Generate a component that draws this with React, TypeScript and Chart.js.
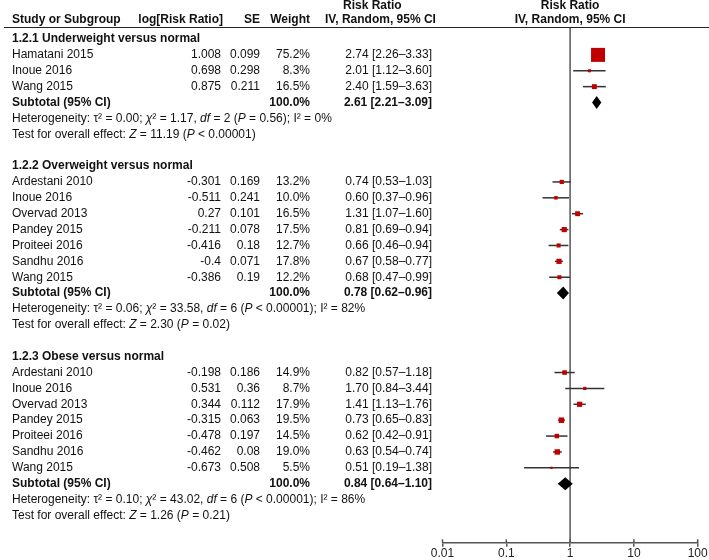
import React, { useEffect, useRef } from "react";
import { Chart, registerables } from "chart.js";

Chart.register(...registerables);

const FONT = "'Liberation Sans', Arial, Helvetica, sans-serif";

// ---------- data ----------
const groupTitles = [
  "1.2.1 Underweight versus normal",
  "1.2.2 Overweight versus normal",
  "1.2.3 Obese versus normal",
];

const studies1 = ["Hamatani 2015", "Inoue 2016", "Wang 2015"];
const logRR1 = [1.008, 0.698, 0.875];
const se1 = [0.099, 0.298, 0.211];
const weight1 = [75.2, 8.3, 16.5];
const rr1 = [2.74, 2.01, 2.4];
const lo1 = [2.26, 1.12, 1.59];
const hi1 = [3.33, 3.6, 3.63];

const studies2 = ["Ardestani 2010", "Inoue 2016", "Overvad 2013", "Pandey 2015", "Proiteei 2016", "Sandhu 2016", "Wang 2015"];
const logRR2 = [-0.301, -0.511, 0.27, -0.211, -0.416, -0.4, -0.386];
const se2 = [0.169, 0.241, 0.101, 0.078, 0.18, 0.071, 0.19];
const weight2 = [13.2, 10.0, 16.5, 17.5, 12.7, 17.8, 12.2];
const rr2 = [0.74, 0.6, 1.31, 0.81, 0.66, 0.67, 0.68];
const lo2 = [0.53, 0.37, 1.07, 0.69, 0.46, 0.58, 0.47];
const hi2 = [1.03, 0.96, 1.6, 0.94, 0.94, 0.77, 0.99];

const studies3 = ["Ardestani 2010", "Inoue 2016", "Overvad 2013", "Pandey 2015", "Proiteei 2016", "Sandhu 2016", "Wang 2015"];
const logRR3 = [-0.198, 0.531, 0.344, -0.315, -0.478, -0.462, -0.673];
const se3 = [0.186, 0.36, 0.112, 0.063, 0.197, 0.08, 0.508];
const weight3 = [14.9, 8.7, 17.9, 19.5, 14.5, 19.0, 5.5];
const rr3 = [0.82, 1.7, 1.41, 0.73, 0.62, 0.63, 0.51];
const lo3 = [0.57, 0.84, 1.13, 0.65, 0.42, 0.54, 0.19];
const hi3 = [1.18, 3.44, 1.76, 0.83, 0.91, 0.74, 1.38];

const subtotalRR = [2.61, 0.78, 0.84];
const subtotalLo = [2.21, 0.62, 0.64];
const subtotalHi = [3.09, 0.96, 1.1];

const tau2 = ["0.00", "0.06", "0.10"];
const chi2 = ["1.17", "33.58", "43.02"];
const dfs = [2, 6, 6];
const hetP = ["= 0.56", "< 0.00001", "< 0.00001"];
const i2 = [0, 82, 86];
const zStat = ["11.19", "2.30", "1.26"];
const zP = ["< 0.00001", "= 0.02", "= 0.21"];

const xTicks = [0.01, 0.1, 1, 10, 100];

// ---------- structure ----------
const rawGroups = [
  { names: studies1, logrr: logRR1, se: se1, w: weight1, rr: rr1, lo: lo1, hi: hi1 },
  { names: studies2, logrr: logRR2, se: se2, w: weight2, rr: rr2, lo: lo2, hi: hi2 },
  { names: studies3, logrr: logRR3, se: se3, w: weight3, rr: rr3, lo: lo3, hi: hi3 },
];

let rowCursor = 0;
const groups = rawGroups.map((g, gi) => {
  const header = rowCursor;
  const studyRows = g.names.map((_, i) => header + 1 + i);
  const sub = header + 1 + g.names.length;
  const het = sub + 1;
  const test = sub + 2;
  rowCursor = test + 2;
  return { ...g, gi, header, studyRows, sub, het, test };
});

const studyPoints = groups.flatMap((g) =>
  g.names.map((_, i) => ({ x: g.rr[i], y: g.studyRows[i], w: g.w[i], lo: g.lo[i], hi: g.hi[i] }))
);

const markerSide = (w: number) => 14 * Math.pow(w / 75.2, 0.69);

type Seg = [string, boolean];

function drawRich(ctx: CanvasRenderingContext2D, segs: Seg[], x: number, y: number) {
  let cx = x;
  ctx.textAlign = "left";
  for (const [t, it] of segs) {
    ctx.font = `${it ? "italic " : ""}12px ${FONT}`;
    ctx.fillText(t, cx, y);
    cx += ctx.measureText(t).width;
  }
}

const forestPlugin = {
  id: "forest",
  beforeDatasetsDraw(chart: any) {
    const { ctx, chartArea, scales } = chart;
    const x = scales.x;
    const y = scales.y;
    ctx.save();
    const x1 = x.getPixelForValue(1);
    ctx.strokeStyle = "#555";
    ctx.lineWidth = 1.5;
    ctx.beginPath();
    ctx.moveTo(x1, chartArea.top);
    ctx.lineTo(x1, chartArea.bottom);
    ctx.stroke();

    ctx.strokeStyle = "#333";
    ctx.lineWidth = 1.5;
    for (const p of studyPoints) {
      const py = y.getPixelForValue(p.y);
      ctx.beginPath();
      ctx.moveTo(x.getPixelForValue(p.lo), py);
      ctx.lineTo(x.getPixelForValue(p.hi), py);
      ctx.stroke();
    }
    ctx.restore();
  },
  afterDatasetsDraw(chart: any) {
    const { ctx, scales } = chart;
    const x = scales.x;
    const y = scales.y;
    ctx.save();
    ctx.fillStyle = "#000";
    groups.forEach((g, gi) => {
      const py = y.getPixelForValue(g.sub);
      const xl = x.getPixelForValue(subtotalLo[gi]);
      const xc = x.getPixelForValue(subtotalRR[gi]);
      const xr = x.getPixelForValue(subtotalHi[gi]);
      ctx.beginPath();
      ctx.moveTo(xl, py);
      ctx.lineTo(xc, py - 6.5);
      ctx.lineTo(xr, py);
      ctx.lineTo(xc, py + 6.5);
      ctx.closePath();
      ctx.fill();
    });
    ctx.restore();
  },
  afterDraw(chart: any) {
    const { ctx, chartArea, scales } = chart;
    const x = scales.x;
    const y = scales.y;
    ctx.save();

    // header line
    ctx.strokeStyle = "#222";
    ctx.lineWidth = 1;
    ctx.beginPath();
    ctx.moveTo(4, chartArea.top + 0.5);
    ctx.lineTo(709, chartArea.top + 0.5);
    ctx.stroke();

    // tick stubs above axis
    ctx.strokeStyle = "#555";
    ctx.lineWidth = 1.5;
    for (const v of xTicks) {
      const px = x.getPixelForValue(v);
      ctx.beginPath();
      ctx.moveTo(px, chartArea.bottom - 3.5);
      ctx.lineTo(px, chartArea.bottom);
      ctx.stroke();
    }

    ctx.fillStyle = "#111";
    ctx.textBaseline = "middle";

    // headers
    const h1 = y.getPixelForValue(-2.08);
    const h2 = y.getPixelForValue(-1.2);
    ctx.font = `bold 12px ${FONT}`;
    ctx.textAlign = "left";
    ctx.fillText("Study or Subgroup", 12, h2);
    ctx.textAlign = "right";
    ctx.fillText("log[Risk Ratio]", 223, h2);
    ctx.fillText("SE", 260, h2);
    ctx.fillText("Weight", 310, h2);
    ctx.textAlign = "left";
    ctx.fillText("Risk Ratio", 343, h1);
    ctx.fillText("IV, Random, 95% CI", 325, h2);
    const xc = x.getPixelForValue(1);
    ctx.textAlign = "center";
    ctx.fillText("Risk Ratio", xc, h1);
    ctx.fillText("IV, Random, 95% CI", xc, h2);

    groups.forEach((g, gi) => {
      ctx.font = `bold 12px ${FONT}`;
      ctx.textAlign = "left";
      ctx.fillText(groupTitles[gi], 12, y.getPixelForValue(g.header));

      g.names.forEach((name, i) => {
        const py = y.getPixelForValue(g.studyRows[i]);
        ctx.font = `12px ${FONT}`;
        ctx.textAlign = "left";
        ctx.fillText(name, 12, py);
        ctx.textAlign = "right";
        ctx.fillText(String(g.logrr[i]), 221, py);
        ctx.fillText(String(g.se[i]), 260, py);
        ctx.fillText(g.w[i].toFixed(1) + "%", 310, py);
        ctx.fillText(`${g.rr[i].toFixed(2)} [${g.lo[i].toFixed(2)}\u2013${g.hi[i].toFixed(2)}]`, 432, py);
      });

      const ps = y.getPixelForValue(g.sub);
      ctx.font = `bold 12px ${FONT}`;
      ctx.textAlign = "left";
      ctx.fillText("Subtotal (95% CI)", 12, ps);
      ctx.textAlign = "right";
      ctx.fillText("100.0%", 310, ps);
      ctx.fillText(
        `${subtotalRR[gi].toFixed(2)} [${subtotalLo[gi].toFixed(2)}\u2013${subtotalHi[gi].toFixed(2)}]`,
        432,
        ps
      );

      drawRich(
        ctx,
        [
          [`Heterogeneity: \u03c4\u00b2 = ${tau2[gi]}; `, false],
          ["\u03c7", true],
          [`\u00b2 = ${chi2[gi]}, `, false],
          ["df", true],
          [` = ${dfs[gi]} (`, false],
          ["P", true],
          [` ${hetP[gi]}); I\u00b2 = ${i2[gi]}%`, false],
        ],
        12,
        y.getPixelForValue(g.het)
      );
      drawRich(
        ctx,
        [
          ["Test for overall effect: ", false],
          ["Z", true],
          [` = ${zStat[gi]} (`, false],
          ["P", true],
          [` ${zP[gi]})`, false],
        ],
        12,
        y.getPixelForValue(g.test)
      );
    });

    ctx.restore();
  },
};

export default function App() {
  const ref = useRef<HTMLCanvasElement | null>(null);

  useEffect(() => {
    document.body.style.margin = "0";
    if (!ref.current) return;
    const chart = new Chart(ref.current, {
      type: "scatter",
      data: {
        datasets: [
          {
            data: studyPoints.map((p) => ({ x: p.x, y: p.y })),
            pointStyle: "rect",
            pointRadius: studyPoints.map((p) => markerSide(p.w) / Math.SQRT2),
            backgroundColor: "#c00000",
            borderWidth: 0,
            clip: false as any,
          },
        ],
      },
      options: {
        responsive: false,
        animation: false,
        events: [],
        layout: { padding: { left: 442.5, right: 11.3, top: 27, bottom: 0 } },
        plugins: { legend: { display: false }, tooltip: { enabled: false } },
        scales: {
          x: {
            type: "logarithmic",
            min: 0.01,
            max: 100,
            position: "bottom",
            afterBuildTicks: (s: any) => {
              s.ticks = xTicks.map((v) => ({ value: v }));
            },
            ticks: {
              callback: (v: any) => String(v),
              color: "#222",
              font: { family: FONT, size: 12, lineHeight: 1.1 },
              padding: 0,
              maxRotation: 0,
              autoSkip: false,
            },
            grid: { display: true, drawOnChartArea: false, drawTicks: true, tickLength: 4, color: "#555", lineWidth: 1.5 },
            border: { display: true, color: "#555", width: 1.5 },
          },
          y: { type: "linear", reverse: true, min: -0.755, max: 31.72, display: false },
        },
      },
      plugins: [forestPlugin],
    });
    return () => chart.destroy();
  }, []);

  return (
    <div style={{ width: 709, height: 560 }}>
      <canvas ref={ref} width={709} height={560} style={{ display: "block" }} />
    </div>
  );
}
